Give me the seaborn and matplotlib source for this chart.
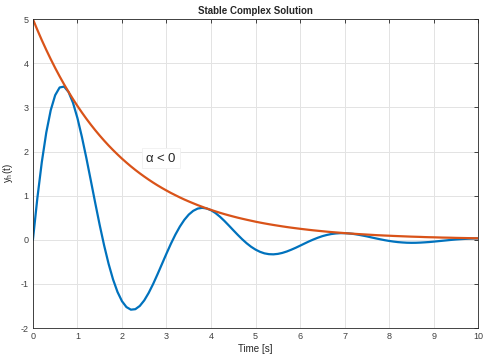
import pandas as pd
import seaborn as sns
import matplotlib.pyplot as plt

# --------------------- data --------------------- #
# time samples [s], one every 0.1 s
time_s = [round(0.1 * k, 1) for k in range(101)]

# damped oscillation y_h(t)
y_h = [
    0.000, 0.945, 1.762, 2.430, 2.937, 3.277, 3.452, 3.472, 3.350, 3.105,
    2.758, 2.332, 1.854, 1.346, 0.832, 0.333, -0.131, -0.546, -0.900, -1.183,
    -1.392, -1.525, -1.584, -1.573, -1.500, -1.374, -1.204, -1.002, -0.778, -0.545,
    -0.312, -0.088, 0.118, 0.299, 0.451, 0.571, 0.656, 0.707, 0.724, 0.710,
    0.670, 0.606, 0.523, 0.428, 0.324, 0.217, 0.112, 0.012, -0.079, -0.158,
    -0.223, -0.273, -0.308, -0.326, -0.330, -0.320, -0.298, -0.266, -0.226, -0.182,
    -0.134, -0.085, -0.037, 0.007, 0.047, 0.082, 0.109, 0.130, 0.143, 0.150,
    0.150, 0.143, 0.132, 0.116, 0.097, 0.077, 0.054, 0.032, 0.011, -0.009,
    -0.026, -0.041, -0.053, -0.061, -0.067, -0.069, -0.068, -0.064, -0.058, -0.051,
    -0.042, -0.032, -0.022, -0.012, -0.002, 0.007, 0.014, 0.020, 0.025, 0.029,
    0.031,
]

# decaying envelope
envelope = [
    5.000, 4.756, 4.524, 4.304, 4.094, 3.894, 3.704, 3.523, 3.352, 3.188,
    3.033, 2.885, 2.744, 2.610, 2.483, 2.362, 2.247, 2.137, 2.033, 1.934,
    1.839, 1.750, 1.664, 1.583, 1.506, 1.433, 1.363, 1.296, 1.233, 1.173,
    1.116, 1.061, 1.010, 0.960, 0.913, 0.869, 0.827, 0.786, 0.748, 0.711,
    0.677, 0.644, 0.612, 0.582, 0.554, 0.527, 0.501, 0.477, 0.454, 0.432,
    0.410, 0.390, 0.371, 0.353, 0.336, 0.320, 0.304, 0.289, 0.275, 0.262,
    0.249, 0.237, 0.225, 0.214, 0.204, 0.194, 0.184, 0.175, 0.167, 0.159,
    0.151, 0.144, 0.137, 0.130, 0.124, 0.118, 0.112, 0.106, 0.101, 0.096,
    0.092, 0.087, 0.083, 0.079, 0.075, 0.071, 0.068, 0.065, 0.061, 0.058,
    0.056, 0.053, 0.050, 0.048, 0.046, 0.043, 0.041, 0.039, 0.037, 0.035,
    0.034,
]

x_ticks = list(range(0, 11))
y_ticks = list(range(-2, 6))

df = pd.DataFrame({'t': time_s, 'y': y_h, 'env': envelope})

# --------------------- style --------------------- #
sns.set_style('whitegrid')
plt.rcParams['font.family'] = ['Liberation Sans', 'DejaVu Sans']
plt.rcParams['mathtext.default'] = 'regular'
plt.rcParams['axes.unicode_minus'] = False

fig = plt.figure(figsize=(4.84, 3.55), dpi=100)
ax = fig.add_axes([0.068, 0.076, 0.92, 0.870])

sns.lineplot(data=df, x='t', y='y', color='#0072BD', linewidth=1.6, ax=ax)
sns.lineplot(data=df, x='t', y='env', color='#D95319', linewidth=1.6, ax=ax)

ax.set_xlim(0, 10)
ax.set_ylim(-2, 5)
ax.set_xticks(x_ticks)
ax.set_yticks(y_ticks)

# MATLAB-like box and grid
ax.grid(True, color='#e3e3e3', linewidth=0.7)
for side in ['left', 'right', 'top', 'bottom']:
    ax.spines[side].set_visible(True)
    ax.spines[side].set_color('#262626')
    ax.spines[side].set_linewidth(0.6)
ax.tick_params(direction='in', length=3, width=0.6, color='#262626',
               top=True, right=True, labelsize=6.5, labelcolor='#404040', pad=3)

ax.set_xlabel('Time [s]', fontsize=7, color='#262626', labelpad=2)
ax.set_ylabel(r'y$_{h}$(t)', fontsize=7, color='#262626', labelpad=4)
ax.set_title('Stable Complex Solution', fontsize=7, fontweight='bold', pad=4)

ax.text(2.52, 1.85, r'$\alpha$ < 0', fontsize=9.5, va='center', ha='left',
        bbox=dict(facecolor='white', edgecolor='#f0f0f0', linewidth=0.6, pad=2.5))

fig.savefig('out.png', dpi=100)
